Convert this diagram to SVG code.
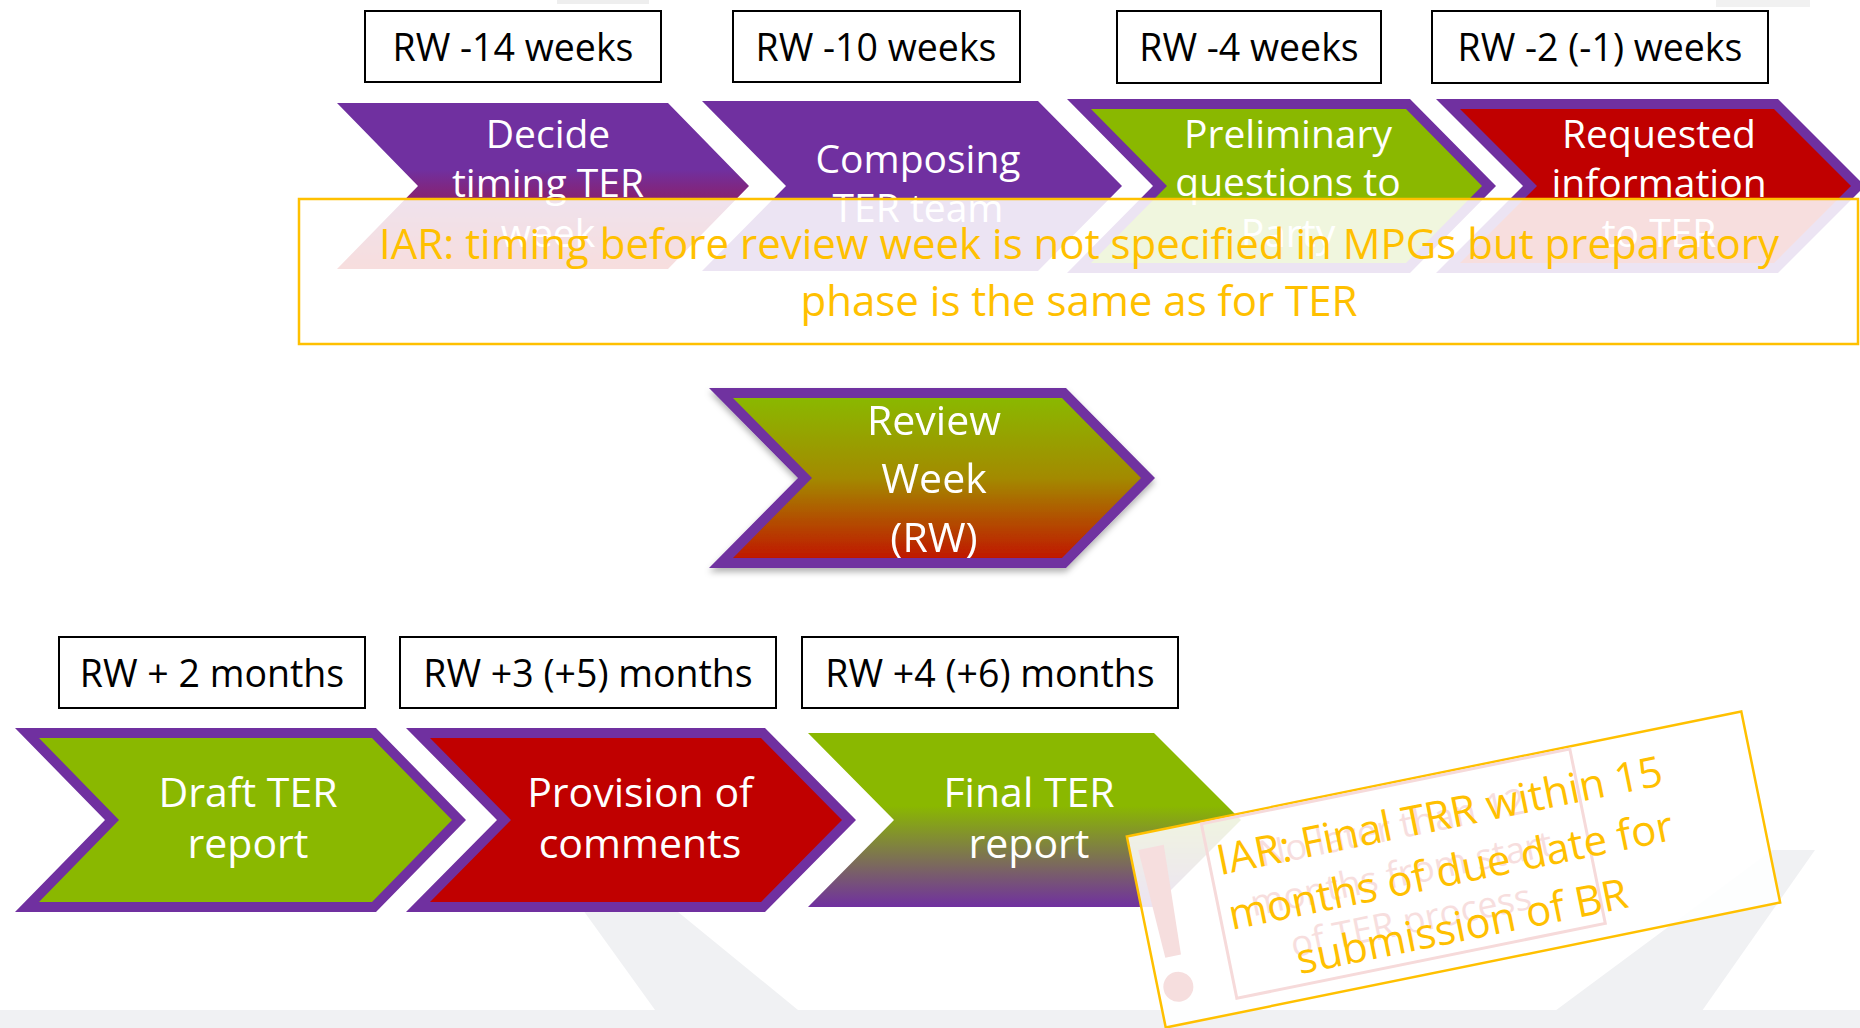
<svg xmlns="http://www.w3.org/2000/svg" width="1860" height="1028" viewBox="0 0 1860 1028">
<defs>
<style>
.box{fill:#fff;stroke:#000;stroke-width:2}
.lbl{font-family:"Open Sans","Noto Sans","Liberation Sans",sans-serif;font-size:37.5px;fill:#000;text-anchor:middle}
.ct{font-family:"Open Sans","Noto Sans","Liberation Sans",sans-serif;font-size:39px;fill:#fff;text-anchor:middle}
.cb{font-family:"Open Sans","Noto Sans","Liberation Sans",sans-serif;font-size:41px;fill:#fff;text-anchor:middle}
.note{font-family:"Open Sans","Noto Sans","Liberation Sans",sans-serif;font-size:42px;fill:#FFC000;text-anchor:middle}
.ghost{font-family:"Open Sans","Noto Sans","Liberation Sans",sans-serif;font-size:36px;fill:#F7DEDE;text-anchor:middle}
.callout{fill:#fff;fill-opacity:0.87;stroke:#FFC000;stroke-width:2.5}
.purple{fill:#7030A0}
.green{fill:#8AB800}
.red{fill:#C00000}
.wm{fill:#F0F1F3}
</style>
<linearGradient id="gPR" x1="0" y1="0" x2="0" y2="1">
<stop offset="0.4" stop-color="#7030A0"/><stop offset="1" stop-color="#C00000"/>
</linearGradient>
<linearGradient id="gGP" x1="0" y1="0" x2="0" y2="1">
<stop offset="0.42" stop-color="#8AB800"/><stop offset="1" stop-color="#7030A0"/>
</linearGradient>
<linearGradient id="gGR" x1="0" y1="0" x2="0" y2="1">
<stop offset="0" stop-color="#8AB800"/><stop offset="0.5" stop-color="#A38A00"/><stop offset="1" stop-color="#C01800"/>
</linearGradient>
<filter id="sh" x="-10%" y="-10%" width="120%" height="130%">
<feDropShadow dx="0" dy="4" stdDeviation="3" flood-color="#000" flood-opacity="0.3"/>
</filter>
</defs>

<rect x="0" y="0" width="1860" height="1028" fill="#fff"/>

<g id="watermark">
<polygon class="wm" points="565,885 645,885 820,1028 668,1028"/>
<polygon class="wm" points="1772,850 1815,850 1690,1028 1532,1028"/>
<rect class="wm" x="0" y="1010" width="1860" height="18"/>
<rect x="557" y="0" width="92" height="4" fill="#EEEEEE"/>
<rect x="1716" y="0" width="94" height="7" fill="#F1F1F1"/>
</g>

<g id="connectors"/>

<!-- top labels -->
<g id="lbl-rw-14"><rect class="box" x="365" y="11" width="296" height="71"/><text class="lbl" x="513" y="61">RW -14 weeks</text></g>
<g id="lbl-rw-10"><rect class="box" x="733" y="11" width="287" height="71"/><text class="lbl" x="876" y="61">RW -10 weeks</text></g>
<g id="lbl-rw-4"><rect class="box" x="1117" y="11" width="264" height="72"/><text class="lbl" x="1249" y="61">RW -4 weeks</text></g>
<g id="lbl-rw-2"><rect class="box" x="1432" y="11" width="336" height="72"/><text class="lbl" x="1600" y="61">RW -2 (-1) weeks</text></g>

<!-- top chevrons -->
<g id="chev-decide">
<polygon fill="url(#gPR)" points="337,103 668,103 749,186 668,269 337,269 418,186"/>
<text class="ct" x="548" y="148">Decide</text>
<text class="ct" x="548" y="197">timing TER</text>
<text class="ct" x="548" y="247">week</text>
</g>
<g id="chev-composing">
<polygon class="purple" points="702,101 1038,101 1122,186 1038,271 702,271 786,186"/>
<text class="ct" x="918" y="173">Composing</text>
<text class="ct" x="918" y="222">TER team</text>
</g>
<g id="chev-preliminary">
<polygon class="purple" points="1067,99 1410,99 1496,186 1410,273 1067,273 1153,186"/>
<polygon class="green" points="1091,109 1406,109 1482,186 1406,263 1091,263 1167,186"/>
<text class="ct" x="1288" y="148">Preliminary</text>
<text class="ct" x="1288" y="196">questions to</text>
<text class="ct" x="1288" y="247">Party</text>
</g>
<g id="chev-requested">
<polygon class="purple" points="1436,99 1778,99 1865,186 1778,273 1436,273 1523,186"/>
<polygon class="red" points="1460,109 1774,109 1851,186 1774,263 1460,263 1537,186"/>
<text class="ct" x="1659" y="148">Requested</text>
<text class="ct" x="1659" y="197">information</text>
<text class="ct" x="1659" y="247">to TER</text>
</g>

<!-- top callout -->
<g id="note-top">
<rect class="callout" x="299" y="199" width="1559" height="145"/>
<text class="note" x="1079" y="259">IAR: timing before review week is not specified in MPGs but preparatory</text>
<text class="note" x="1079" y="316">phase is the same as for TER</text>
</g>

<!-- review week -->
<g id="chev-review" filter="url(#sh)">
<polygon class="purple" points="709,388 1066,388 1155,478 1066,568 709,568 798,478"/>
<polygon fill="url(#gGR)" points="733,398 1062,398 1141,478 1062,558 733,558 812,478"/>
<text class="cb" x="934" y="435">Review</text>
<text class="cb" x="934" y="493">Week</text>
<text class="cb" x="934" y="552">(RW)</text>
</g>

<!-- bottom labels -->
<g id="lbl-rw+2"><rect class="box" x="59" y="637" width="306" height="71"/><text class="lbl" x="212" y="687">RW + 2 months</text></g>
<g id="lbl-rw+3"><rect class="box" x="400" y="637" width="376" height="71"/><text class="lbl" x="588" y="687">RW +3 (+5) months</text></g>
<g id="lbl-rw+4"><rect class="box" x="802" y="637" width="376" height="71"/><text class="lbl" x="990" y="687">RW +4 (+6) months</text></g>

<!-- bottom chevrons -->
<g id="chev-draft">
<polygon class="purple" points="15,728 376,728 466,820 376,912 15,912 105,820"/>
<polygon class="green" points="39,738 372,738 452,820 372,902 39,902 119,820"/>
<text class="cb" x="248" y="807">Draft TER</text>
<text class="cb" x="248" y="858">report</text>
</g>
<g id="chev-provision">
<polygon class="purple" points="406,728 765,728 856,820 765,912 406,912 497,820"/>
<polygon class="red" points="430,738 761,738 842,820 761,902 430,902 511,820"/>
<text class="cb" x="640" y="807">Provision of</text>
<text class="cb" x="640" y="858">comments</text>
</g>
<g id="chev-final">
<polygon fill="url(#gGP)" points="808,733 1154,733 1241,820 1154,907 808,907 894,820"/>
<text class="cb" x="1029" y="807">Final TER</text>
<text class="cb" x="1029" y="858">report</text>
</g>

<!-- bottom rotated callout -->
<g id="note-bottom" transform="translate(1453.5,869.5) rotate(-11.5)">
<rect class="callout" x="-313.5" y="-97.5" width="627" height="195"/>
<rect x="-238" y="-95" width="376" height="178" fill="none" stroke="#F6DADA" stroke-width="3"/>
<polygon points="-305,-82 -279,-82 -284,29 -300,29" fill="#F6DEDE"/>
<circle cx="-293" cy="60" r="15" fill="#F6DEDE"/>
<text class="ghost" x="-52" y="-41">No later than 12</text>
<text class="ghost" x="-52" y="6">months from start</text>
<text class="ghost" x="-52" y="54">of TER process</text>
<text class="note" x="-3" y="-41">IAR: Final TRR within 15</text>
<text class="note" x="-3" y="15">months of due date for</text>
<text class="note" x="-3" y="72">submission of BR</text>
</g>
</svg>
